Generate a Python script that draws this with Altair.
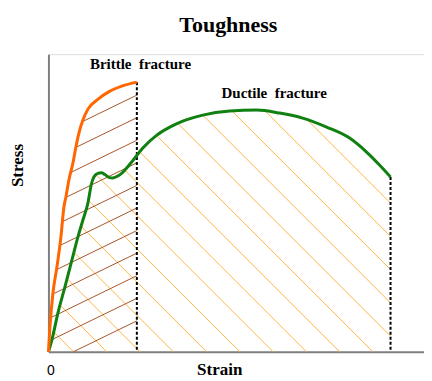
import altair as alt
import numpy as np
import pandas as pd

# ---------------- data ----------------
brittle_strain = [0, 0.40, 1.20, 2.26, 3.32, 4.12, 4.65, 5.45, 6.52, 7.31, 8.11, 9.18,
                  10.51, 12.90, 16.36, 19.55, 23.54]
brittle_stress = [0, 8.39, 19.80, 28.52, 38.59, 48.66, 52.01, 57.72, 63.42, 68.79, 73.49,
                  77.85, 81.54, 84.56, 87.58, 89.26, 90.60]

ductile_strain = [0, 0.93, 2.53, 4.39, 6.25, 7.85, 9.18, 10.51, 11.44, 12.10, 13.16, 14.10,
                  15.03, 15.96, 17.15, 18.48, 19.55, 21.94, 25.13, 28.86, 32.31, 35.77,
                  41.09, 48.27, 55.45, 61.57, 67.69, 74.07, 80.19, 84.71, 88.16, 91.09]
ductile_stress = [0, 4.03, 13.09, 21.81, 30.87, 38.59, 44.30, 50.00, 56.38, 58.72, 59.97,
                  60.17, 59.56, 58.72, 58.39, 59.06, 60.07, 63.42, 68.46, 72.82, 75.50,
                  77.52, 79.53, 80.87, 81.21, 80.20, 78.52, 75.50, 71.81, 67.11, 62.75, 58.72]

label_text = ["Toughness", "Brittle\u00a0 fracture", "Ductile\u00a0 fracture"]
label_strain = [47.9, 24.5, 60.1]
label_stress = [107.6, 94.9, 85.3]
label_size = [22, 15, 15]

# ---------------- hatch style (pattern geometry, not data) ----------------
BROWN_SLOPE = 0.6145          # rising hatch under brittle curve
BROWN_STEP = 7.584
BROWN_TOP = 86.24
BROWN_COUNT = 11
ORANGE_SLOPE = -1.2617        # falling hatch under ductile curve
ORANGE_START = 6.70
ORANGE_STEP = 8.856
ORANGE_COUNT = 24


def hatch(xc, yc, anchors, slope):
    x_end = xc[-1]
    xs = np.linspace(0, x_end, 6000)
    cy = np.interp(xs, xc, yc)
    rows = []
    for ax, ay in anchors:
        yl = ay + slope * (xs - ax)
        inside = (yl >= 0) & (yl <= cy + 1e-9)
        idx = np.flatnonzero(inside)
        if idx.size < 2:
            continue
        runs = np.split(idx, np.flatnonzero(np.diff(idx) > 1) + 1)
        for r in runs:
            if r.size < 2:
                continue
            rows.append({"x": float(xs[r[0]]), "y": float(yl[r[0]]),
                         "x2": float(xs[r[-1]]), "y2": float(yl[r[-1]])})
    return pd.DataFrame(rows)


brown_anchors = [(brittle_strain[-1], BROWN_TOP - BROWN_STEP * k) for k in range(BROWN_COUNT)]
orange_anchors = [(ORANGE_START + ORANGE_STEP * k, 0.0) for k in range(ORANGE_COUNT)]
brown_df = hatch(brittle_strain, brittle_stress, brown_anchors, BROWN_SLOPE)
orange_df = hatch(ductile_strain, ductile_stress, orange_anchors, ORANGE_SLOPE)

brittle_df = pd.DataFrame({"x": brittle_strain, "y": brittle_stress})
ductile_df = pd.DataFrame({"x": ductile_strain, "y": ductile_stress})
ends_df = pd.DataFrame({"x": [brittle_strain[-1], ductile_strain[-1]],
                        "y": [brittle_stress[-1], ductile_stress[-1]],
                        "base": [0, 0]})
labels_df = pd.DataFrame({"x": label_strain, "y": label_stress, "t": label_text,
                          "s": label_size})

SERIF = "Liberation Serif"
GRAY = "#808080"

x_axis = alt.Axis(values=[0], title="Strain", grid=False, ticks=False, tickSize=0,
                  domainColor=GRAY, domainWidth=2,
                  labelFont="Liberation Sans", labelFontSize=14, labelColor="black",
                  labelBaseline="alphabetic", labelPadding=23, labelFlush=False, labelOffset=2,
                  titleFont=SERIF, titleFontSize=17, titleFontWeight="bold", titleColor="black",
                  titleX=171, titleY=23, titleBaseline="alphabetic", titleAlign="center")
y_axis = alt.Axis(values=[], labels=False, grid=False, ticks=False, tickSize=0,
                  domainColor=GRAY, domainWidth=2,
                  title="Stress", titleFont=SERIF, titleFontSize=17, titleFontWeight="bold",
                  titleColor="black", titleAngle=270, titleX=-26, titleY=111,
                  titleBaseline="alphabetic", titleAlign="center")

xs = alt.Scale(domain=[0, 100], nice=False, zero=False)
ys = alt.Scale(domain=[0, 100], nice=False, zero=False)


def X(f="x"):
    return alt.X(f"{f}:Q", scale=xs, axis=x_axis)


def Y(f="y"):
    return alt.Y(f"{f}:Q", scale=ys, axis=y_axis)


orange_hatch = alt.Chart(orange_df).mark_rule(stroke="#FFB547", strokeWidth=1).encode(
    x=X(), y=Y(), x2="x2:Q", y2="y2:Q")
brown_hatch = alt.Chart(brown_df).mark_rule(stroke="#A8552A", strokeWidth=1).encode(
    x=X(), y=Y(), x2="x2:Q", y2="y2:Q")
dashes = alt.Chart(ends_df).mark_rule(stroke="black", strokeWidth=2, strokeDash=[3, 2]).encode(
    x=X(), y=Y(), y2="base:Q")
ductile_line = alt.Chart(ductile_df).mark_line(stroke="#108010", strokeWidth=3,
                                               interpolate="monotone").encode(x=X(), y=Y())
brittle_line = alt.Chart(brittle_df).mark_line(stroke="#FF6600", strokeWidth=3,
                                               interpolate="monotone").encode(x=X(), y=Y())
labels = alt.Chart(labels_df).mark_text(font=SERIF, fontWeight="bold",
                                        baseline="alphabetic", align="center",
                                        color="black").encode(
    x=X(), y=Y(), text="t:N", size=alt.Size("s:Q", scale=None, legend=None))

chart = alt.layer(orange_hatch, brown_hatch, dashes, ductile_line, brittle_line, labels).properties(
    width=376, height=298,
    autosize=alt.AutoSizeParams(type="none"),
    padding={"left": 40.5, "top": 46, "right": 0, "bottom": 27},
).configure_view(stroke=None).configure(background="white")

chart.save("out.html", embed_options={"renderer": "svg", "actions": False})
